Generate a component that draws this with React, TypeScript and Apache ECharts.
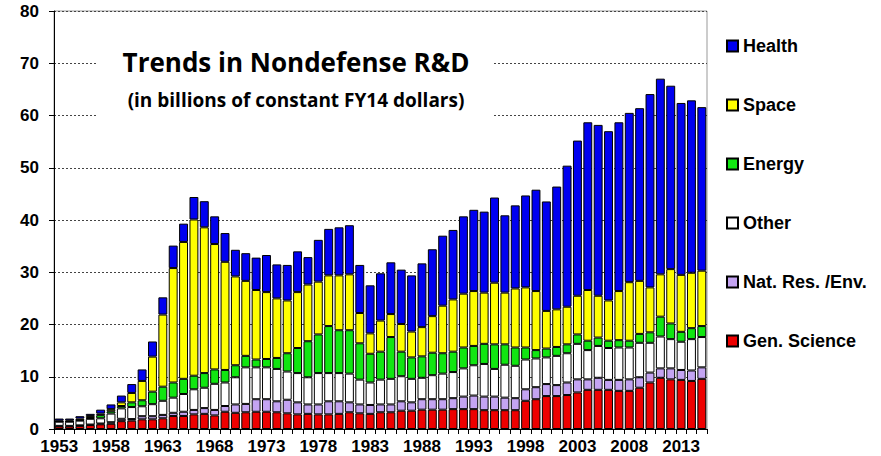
import React, { useEffect, useRef } from "react";
import * as echarts from "echarts";

const years: string[] = [
  "1953","1954","1955","1956","1957","1958","1959","1960","1961","1962",
  "1963","1964","1965","1966","1967","1968","1969","1970","1971","1972",
  "1973","1974","1975","1976","1977","1978","1979","1980","1981","1982",
  "1983","1984","1985","1986","1987","1988","1989","1990","1991","1992",
  "1993","1994","1995","1996","1997","1998","1999","2000","2001","2002",
  "2003","2004","2005","2006","2007","2008","2009","2010","2011","2012",
  "2013","2014","2015",
];

const genScience = [
  0.5, 0.5, 0.6, 0.75, 0.9, 1.0, 1.5, 1.6, 1.85, 1.85,
  2.05, 2.5, 2.5, 2.8, 2.9, 2.6, 3.3, 3.1, 3.2, 3.3,
  3.3, 3.2, 3.0, 2.8, 2.9, 2.8, 2.8, 2.9, 3.2, 3.0,
  2.9, 3.2, 3.2, 3.5, 3.5, 3.7, 3.7, 3.7, 3.8, 3.8,
  3.8, 3.6, 3.6, 3.6, 3.6, 5.4, 5.7, 6.3, 6.3, 6.5,
  7.0, 7.5, 7.5, 7.5, 7.3, 7.3, 7.9, 8.9, 9.8, 9.5,
  9.4, 9.2, 9.6,
];

const natResEnv = [
  0.1, 0.1, 0.1, 0.1, 0.15, 0.3, 0.45, 0.3, 0.6, 0.6,
  0.65, 0.6, 0.8, 0.85, 1.1, 1.05, 1.1, 1.6, 1.6, 2.4,
  2.4, 2.1, 2.6, 2.3, 1.8, 1.9, 2.5, 2.4, 1.9, 1.7,
  1.7, 1.5, 1.5, 1.8, 1.6, 2.0, 2.0, 2.0, 2.1, 2.4,
  2.6, 2.6, 2.6, 2.4, 2.3, 2.2, 2.3, 2.3, 2.1, 2.4,
  2.5, 2.0, 2.3, 1.9, 2.1, 2.2, 2.0, 1.9, 1.8, 2.1,
  1.9, 2.0, 2.2,
];

const other = [
  0.8, 0.8, 0.9, 1.1, 1.0, 1.65, 2.0, 2.3, 1.9, 2.3,
  2.7, 2.9, 3.4, 3.95, 3.9, 5.0, 4.5, 5.2, 7.0, 6.1,
  6.1, 6.2, 5.4, 5.6, 5.2, 6.0, 5.4, 5.4, 5.5, 4.75,
  4.3, 4.75, 4.9, 4.8, 4.5, 4.1, 4.6, 4.9, 5.0, 5.4,
  5.8, 6.25, 5.3, 6.3, 6.2, 5.7, 5.5, 5.1, 5.6, 5.6,
  6.8, 5.6, 6.1, 6.1, 6.2, 6.1, 6.6, 5.7, 6.1, 5.6,
  5.4, 6.0, 5.8,
];

const energy = [
  0.05, 0.05, 0.1, 0.15, 0.6, 0.45, 0.45, 0.9, 1.15, 2.4,
  2.7, 2.9, 2.9, 2.6, 2.8, 2.75, 2.4, 2.3, 2.2, 1.5,
  1.6, 2.1, 3.5, 4.8, 6.9, 7.4, 9.0, 8.2, 8.3, 6.95,
  5.5, 5.35, 8.0, 4.7, 4.1, 4.1, 4.3, 3.9, 3.9, 4.0,
  3.7, 3.85, 4.7, 3.9, 3.5, 2.3, 1.6, 1.7, 1.7, 1.7,
  1.8, 1.8, 1.6, 1.4, 1.4, 1.3, 1.7, 2.0, 3.8, 3.0,
  1.9, 2.1, 2.1,
];

const space = [
  0.15, 0.2, 0.3, 0.4, 0.3, 0.4, 0.7, 1.8, 3.7, 6.7,
  13.8, 21.9, 26.2, 29.9, 27.9, 24.0, 20.7, 17.0, 14.35, 13.3,
  12.8, 11.4, 10.1, 10.7, 10.85, 10.1, 9.7, 10.5, 10.7, 5.8,
  3.9, 5.95, 4.4, 5.3, 4.95, 5.6, 7.0, 9.1, 10.0, 10.3,
  10.5, 9.8, 11.8, 9.9, 11.3, 11.5, 11.3, 7.2, 7.2, 7.2,
  7.4, 9.7, 8.0, 7.7, 9.4, 11.2, 10.15, 8.6, 8.1, 10.4,
  10.9, 10.6, 10.6,
];

const health = [
  0.4, 0.35, 0.45, 0.4, 0.75, 0.9, 1.3, 1.7, 2.2, 2.9,
  3.3, 4.3, 3.5, 4.3, 5.0, 5.3, 5.5, 5.1, 5.3, 6.2,
  7.1, 6.5, 6.8, 7.8, 5.25, 8.0, 8.9, 9.2, 9.4, 9.2,
  9.2, 9.05, 9.9, 10.4, 10.75, 12.2, 12.8, 13.4, 13.3, 14.8,
  15.55, 15.5, 16.3, 14.8, 15.9, 17.6, 19.4, 20.95, 23.5, 27.0,
  29.7, 32.1, 32.7, 32.4, 32.3, 32.4, 33.05, 37.0, 37.45, 35.1,
  32.9, 33.0, 31.3,
];

const seriesNames = ["Gen. Science", "Nat. Res. /Env.", "Other", "Energy", "Space", "Health"];
const seriesData = [genScience, natResEnv, other, energy, space, health];
const seriesColors = ["#ee0000", "#c4a4f2", "#ffffff", "#11e611", "#ffff00", "#0000f0"];
const legendOrder = ["Health", "Space", "Energy", "Other", "Nat. Res. /Env.", "Gen. Science"];

const titleText = "Trends in Nondefense R&D";
const subtitleText = "(in billions of constant FY14 dollars)";

export default function App() {
  const ref = useRef<HTMLDivElement>(null);
  useEffect(() => {
    if (!ref.current) return;
    const chart = echarts.init(ref.current, undefined, { renderer: "svg" });
    const axisFont = {
      fontFamily: "Liberation Sans, Arial, sans-serif",
      fontWeight: "bold" as const,
      fontSize: 17,
      color: "#000",
    };
    chart.setOption({
      animation: false,
      backgroundColor: "#fff",
      grid: {
        left: 54,
        top: 11,
        right: 174,
        bottom: 27,
        show: true,
        borderColor: "#999",
        borderWidth: 1,
        containLabel: false,
        outerBoundsMode: "none",
      },
      legend: {
        data: legendOrder,
        orient: "vertical",
        left: 726,
        top: 37,
        padding: 0,
        itemWidth: 11,
        itemHeight: 11,
        itemGap: 41,
        icon: "rect",
        selectedMode: false,
        textStyle: {
          fontFamily: "Liberation Sans, Arial, sans-serif",
          fontWeight: "bold",
          fontSize: 18,
          lineHeight: 18,
          color: "#000",
        },
      },
      xAxis: {
        type: "category",
        data: years,
        boundaryGap: true,
        axisLine: { show: true, lineStyle: { color: "#000", width: 1 } },
        axisTick: { show: true, interval: 0, length: 5, alignWithLabel: false, lineStyle: { color: "#000" } },
        axisLabel: { interval: 4, margin: 9, ...axisFont },
        splitLine: { show: false },
      },
      yAxis: {
        type: "value",
        min: 0,
        max: 80,
        interval: 10,
        axisLine: { show: true, lineStyle: { color: "#000", width: 1 } },
        axisTick: { show: true, length: 5, lineStyle: { color: "#000" } },
        axisLabel: { margin: 15, ...axisFont },
        splitLine: { show: true, lineStyle: { color: "#444", width: 1, type: [2, 2] } },
      },
      graphic: [
        {
          type: "rect",
          z: 100,
          shape: { x: 97, y: 48, width: 396, height: 76 },
          style: { fill: "#fff" },
        },
        {
          type: "text",
          z: 101,
          x: 296,
          y: 62,
          style: {
            text: titleText,
            fontFamily: "Open Sans, sans-serif",
            fontWeight: "bold",
            fontSize: 26,
            fill: "#000",
            align: "center",
            verticalAlign: "middle",
          },
        },
        {
          type: "text",
          z: 101,
          x: 296,
          y: 100,
          style: {
            text: subtitleText,
            fontFamily: "Open Sans, sans-serif",
            fontWeight: "bold",
            fontSize: 19,
            fill: "#000",
            align: "center",
            verticalAlign: "middle",
          },
        },
      ],
      series: seriesNames.map((name, i) => ({
        name,
        type: "bar",
        stack: "total",
        data: seriesData[i],
        barCategoryGap: "14%",
        itemStyle: { color: seriesColors[i], borderColor: "#000", borderWidth: 1 },
      })),
    });
    return () => chart.dispose();
  }, []);
  return (
    <div
      ref={ref}
      style={{ position: "absolute", left: 0, top: 0, width: 881, height: 456 }}
    />
  );
}
